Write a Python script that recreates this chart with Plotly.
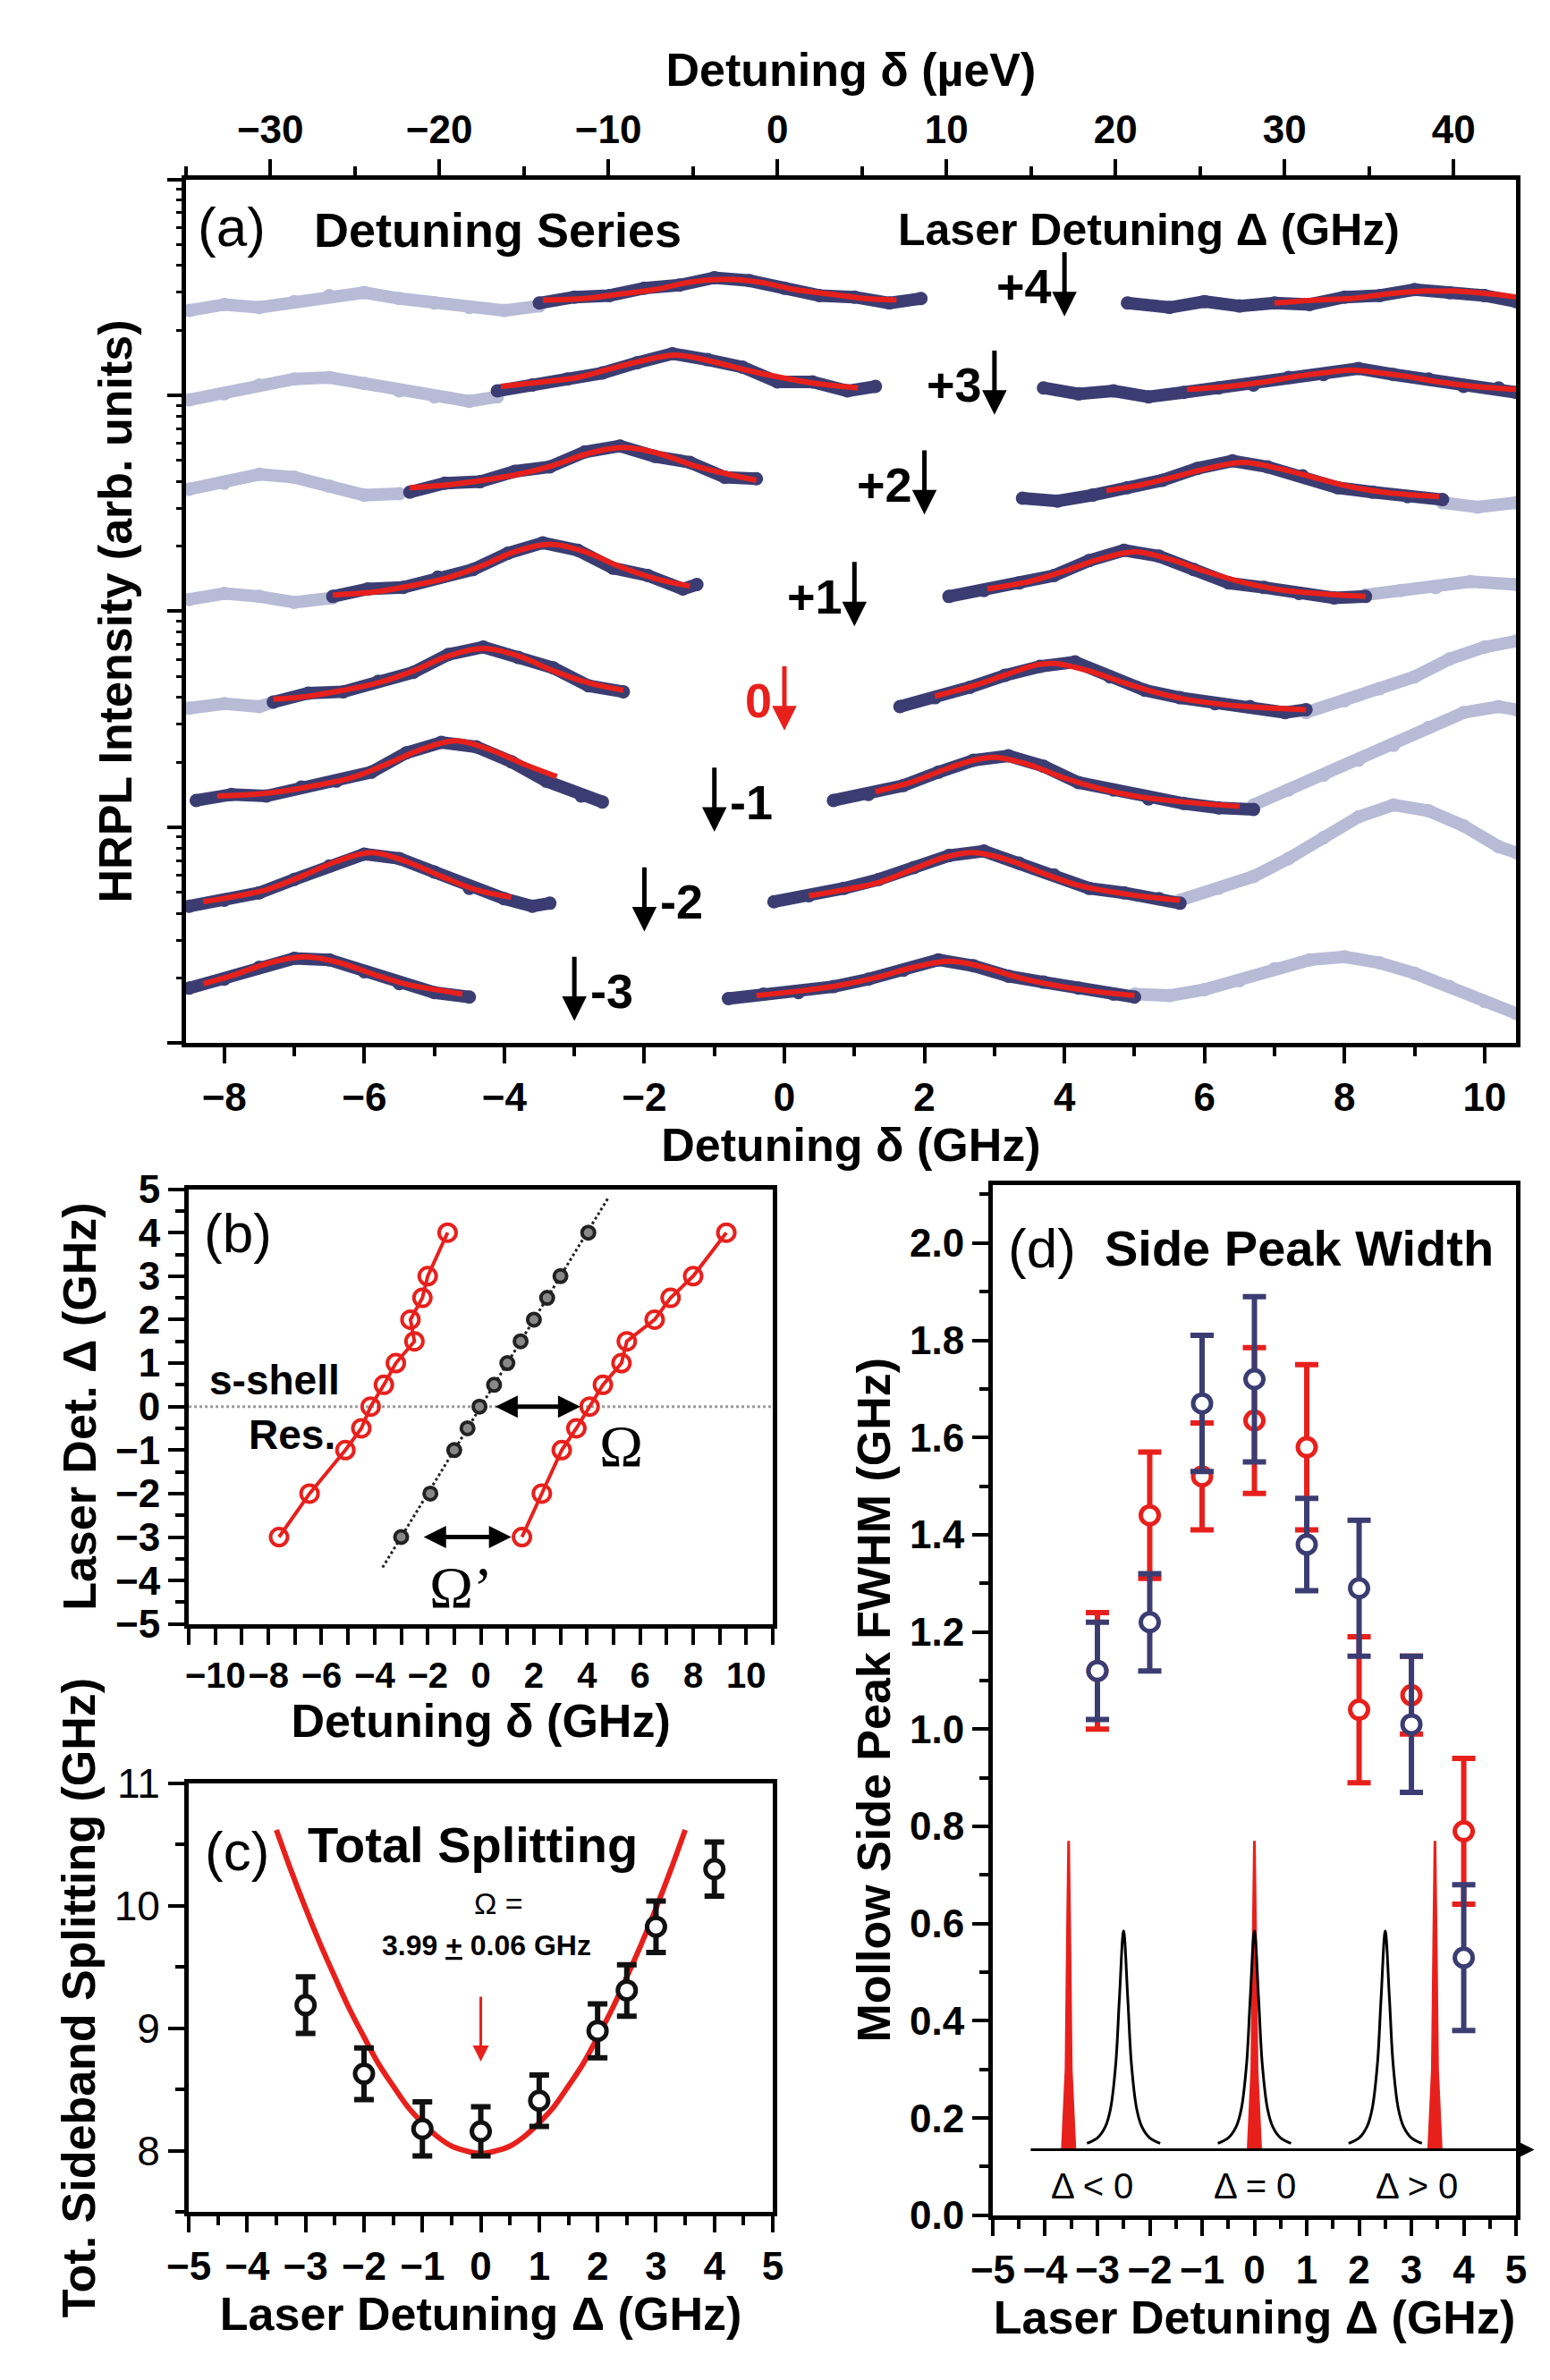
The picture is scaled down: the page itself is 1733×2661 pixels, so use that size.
import plotly.graph_objects as go

# ---------------- Panel (a) data (v = height above panel bottom, arb.) ----------------
row_labels = ["+4", "+3", "+2", "+1", "0", "-1", "-2", "-3"]
arrow_x = [4, 3, 2, 1, 0, -1, -2, -3]
arrow_tip = [488, 422, 355, 280, 210, 142, 75, 15]

lightL_x = [[-8.5,-8.0,-7.5,-7.0,-6.5,-6.0,-5.5,-5.0,-4.5,-4.0,-3.5],
            [-8.5,-8.0,-7.5,-7.0,-6.5,-6.0,-5.5,-5.0,-4.5,-4.1],
            [-8.5,-8.0,-7.5,-7.0,-6.5,-6.0,-5.5],
            [-8.5,-8.0,-7.5,-7.0,-6.45],
            [-8.5,-8.0,-7.5,-7.3], [], [], []]
lightL_v = [[492,496,494,498,502,504,500,497,494,492,495],
            [432,436,442,446,447,443,438,434,431,434],
            [372,376,382,380,374,368,369],
            [298,302,300,296,299],
            [225,228,226,229], [], [], []]
darkL_x = [[-3.5,-3.0,-2.5,-2.0,-1.5,-1.0,-0.5,0,0.5,1.0,1.5,1.95],
           [-4.1,-3.6,-3.1,-2.6,-2.1,-1.6,-1.1,-0.6,-0.1,0.4,0.9,1.3],
           [-5.35,-4.85,-4.35,-3.85,-3.35,-2.85,-2.35,-1.85,-1.35,-0.85,-0.4],
           [-6.45,-5.95,-5.45,-4.95,-4.45,-3.95,-3.45,-2.95,-2.45,-1.95,-1.45,-1.25],
           [-7.3,-6.8,-6.3,-5.8,-5.3,-4.8,-4.3,-3.8,-3.3,-2.8,-2.3],
           [-8.4,-7.9,-7.4,-6.9,-6.4,-5.9,-5.4,-4.9,-4.4,-3.9,-3.4,-2.9,-2.6],
           [-8.5,-8.0,-7.5,-7.0,-6.5,-6.0,-5.5,-5.0,-4.5,-4.0,-3.6,-3.35],
           [-8.5,-8.0,-7.5,-7.0,-6.5,-6.0,-5.5,-5.0,-4.5]]
darkL_v = [[497,501,502,507,509,514,512,507,502,501,497,500],
           [438,442,446,450,457,463,459,454,444,444,438,441],
           [370,376,377,384,387,397,401,394,390,380,379],
           [300,305,306,313,318,329,336,331,319,314,305,308],
           [229,235,236,243,249,261,266,259,252,240,236],
           [163,167,166,172,176,182,195,202,199,189,176,166,162],
           [92,96,101,110,119,127,124,115,104,97,92,94],
           [37,43,51,57,56,48,40,34,31]]
fitL_x = [[-3.45,-2.85,-2.35,-1.85,-1.35,-0.85,-0.35,0.15,0.65,1.15,1.6],
          [-4.05,-3.45,-2.95,-2.55,-2.05,-1.55,-1.05,-0.55,-0.05,0.45,1.05],
          [-5.35,-4.8,-4.3,-3.8,-3.3,-2.8,-2.3,-1.8,-1.3,-0.8,-0.4],
          [-6.45,-5.85,-5.35,-4.85,-4.35,-3.85,-3.35,-2.85,-2.35,-1.85,-1.35],
          [-7.3,-6.8,-6.3,-5.8,-5.3,-4.8,-4.3,-3.8,-3.3,-2.8,-2.3],
          [-8.1,-7.6,-7.2,-6.7,-6.2,-5.7,-5.2,-4.7,-4.2,-3.7,-3.25],
          [-8.3,-7.8,-7.4,-6.9,-6.4,-5.9,-5.4,-4.9,-4.4,-3.9],
          [-8.3,-7.85,-7.35,-6.85,-6.35,-5.85,-5.35,-4.85,-4.6]]
fitL_v = [[499,500,503,506,511,513,511,506,503,500,499],
          [441,444,447,452,458,462,458,452,447,443,440],
          [373,375,378,382,388,396,400,396,388,382,378],
          [301,303,307,312,320,330,335,330,320,312,307],
          [231,233,237,242,250,260,265,260,250,242,237],
          [166,167,169,173,178,187,197,203,197,187,179],
          [95,99,103,112,122,128,122,112,103,98],
          [40,46,54,58,54,46,39,35,33]]
darkR_x = [[4.9,5.5,6.0,6.5,7.0,7.5,8.0,8.5,9.0,9.5,10.0,10.45],
           [3.7,4.2,4.7,5.2,5.7,6.2,6.7,7.2,7.7,8.2,8.7,9.2,9.7,10.2,10.45],
           [3.4,3.9,4.4,4.9,5.4,5.9,6.4,6.9,7.4,7.9,8.4,8.9,9.4],
           [2.35,2.85,3.35,3.85,4.35,4.85,5.35,5.85,6.35,6.85,7.35,7.85,8.3],
           [1.65,2.15,2.65,3.15,3.65,4.15,4.65,5.15,5.65,6.15,6.65,7.15,7.45],
           [0.7,1.2,1.7,2.2,2.7,3.2,3.7,4.2,4.7,5.2,5.7,6.2,6.7],
           [-0.15,0.35,0.85,1.35,1.85,2.35,2.85,3.35,3.85,4.35,4.85,5.35,5.65],
           [-0.8,-0.3,0.2,0.7,1.2,1.7,2.2,2.7,3.2,3.7,4.2,4.7,5.0]]
darkR_v = [[497,494,498,495,497,496,501,502,506,504,502,498],
           [440,436,438,434,437,440,442,447,449,453,449,446,441,440,437],
           [366,364,368,373,378,386,391,387,381,373,370,367,365],
           [300,304,309,314,324,331,327,318,309,306,302,299,300],
           [226,232,239,247,253,256,246,237,232,228,226,222,224],
           [163,167,173,182,190,193,186,175,170,164,161,158,157],
           [95,99,104,110,118,126,129,121,113,104,101,97,94],
           [30,33,34,38,43,49,56,52,45,41,37,33,31]]
fitR_x = [[7.0,7.6,8.1,8.6,9.1,9.35,9.6,10.1,10.45],
          [5.75,6.35,6.85,7.35,7.85,8.1,8.35,8.85,9.35,9.85,10.45],
          [4.6,5.1,5.55,6.05,6.55,7.05,7.55,8.05,8.55,9.0,9.35],
          [2.9,3.5,4.0,4.5,5.0,5.5,6.0,6.5,7.0,7.6,8.3],
          [2.15,2.7,3.2,3.6,3.85,4.35,4.85,5.35,5.85,6.6,7.45],
          [1.3,1.8,2.3,2.7,3.0,3.5,4.0,4.5,5.0,5.7,6.5],
          [0.35,0.85,1.35,1.85,2.3,2.7,3.2,3.7,4.2,4.9,5.65],
          [-0.4,0.2,0.8,1.3,1.85,2.35,2.85,3.35,3.85,4.4,5.0]]
fitR_v = [[497,499,500,503,505,505,505,503,501],
          [439,441,444,448,451,452,451,448,444,441,439],
          [371,375,380,386,390,386,380,374,370,368,367],
          [305,310,317,325,330,325,317,310,305,302,300],
          [233,240,248,254,255,250,242,235,230,226,224],
          [169,175,184,190,192,187,178,171,166,162,159],
          [99,103,108,117,125,128,123,114,106,100,96],
          [32,35,39,44,51,55,51,44,39,35,32]]
lightR_x = [[], [],
            [9.4,9.9,10.45],
            [8.3,8.8,9.3,9.8,10.45],
            [7.45,8.0,8.5,9.0,9.5,10.0,10.45],
            [6.7,7.2,7.7,8.2,8.7,9.2,9.7,10.2,10.45],
            [5.65,6.2,6.7,7.2,7.7,8.2,8.7,9.2,9.7,10.2,10.45],
            [5.0,5.5,6.0,6.5,7.0,7.5,8.0,8.5,9.0,9.5,10.0,10.45]]
lightR_v = [[], [],
            [363,360,363],
            [301,304,306,310,308],
            [222,230,238,246,258,266,270],
            [160,170,180,190,200,212,222,226,224],
            [96,104,112,124,138,152,160,156,146,132,128],
            [33,32,36,42,50,56,58,54,47,38,28,20]]

# ---------------- Panel (b) data ----------------
b_Delta = [-3, -2, -1, -0.5, 0, 0.5, 1, 1.5, 2, 2.5, 3, 4]
b_left = [-7.6, -6.45, -5.1, -4.5, -4.15, -3.65, -3.2, -2.5, -2.65, -2.2, -2.0, -1.25]
b_center = [-3.0, -1.9, -1.0, -0.5, -0.05, 0.5, 1.0, 1.5, 2.0, 2.5, 3.0, 4.05]
b_right = [1.55, 2.3, 3.05, 3.6, 4.1, 4.6, 5.3, 5.5, 6.55, 7.15, 8.0, 9.25]
b_dotted = [-3.7, 4.8]

# ---------------- Panel (c) data ----------------
c_Delta = [-3, -2, -1, 0, 1, 2, 2.5, 3, 4]
c_split = [9.19, 8.63, 8.18, 8.16, 8.41, 8.98, 9.31, 9.83, 10.30]
c_err = [0.23, 0.21, 0.22, 0.20, 0.21, 0.22, 0.21, 0.21, 0.22]
c_fit_x = [-3.5,-3.25,-3.0,-2.75,-2.5,-2.25,-2.0,-1.75,-1.5,-1.25,-1.0,-0.75,-0.5,-0.25,0,
           0.25,0.5,0.75,1.0,1.25,1.5,1.75,2.0,2.25,2.5,2.75,3.0,3.25,3.5]
c_fit_y = [10.62,10.29,9.98,9.69,9.42,9.16,8.93,8.71,8.53,8.36,8.23,8.12,8.04,8.0,7.98,
           8.0,8.04,8.12,8.23,8.36,8.53,8.71,8.93,9.16,9.42,9.69,9.98,10.29,10.62]

# ---------------- Panel (d) data ----------------
d_Delta = [-3, -2, -1, 0, 1, 2, 3, 4]
d_blue = [1.12, 1.22, 1.67, 1.72, 1.38, 1.29, 1.01, 0.53]
d_blue_err = [0.10, 0.10, 0.14, 0.17, 0.095, 0.14, 0.14, 0.15]
d_red = [1.12, 1.44, 1.52, 1.635, 1.58, 1.04, 1.07, 0.79]
d_red_err = [0.12, 0.13, 0.11, 0.15, 0.17, 0.15, 0.08, 0.15]
inset_black_centers = [-2.5, 0, 2.5]
inset_black_dx = [-0.7,-0.5,-0.35,-0.25,-0.15,-0.08,0,0.08,0.15,0.25,0.35,0.5,0.7]
inset_black_h = [0.148,0.159,0.182,0.219,0.311,0.446,0.585,0.446,0.311,0.219,0.182,0.159,0.148]
inset_red_centers = [-3.55, 0, 3.45]
inset_red_dx = [-0.12,-0.05,-0.02,0,0.02,0.05,0.12]
inset_red_h = [0.135,0.3,0.6,0.77,0.6,0.3,0.135]
inset_base = 0.135

DARK = "#3b3d72"
LIGHT = "#b8bbd6"
RED = "#e8201c"
FONT = "Liberation Sans"

fig = go.Figure()

# panel (a)
for i in range(len(row_labels)):
    for xs, vs, col in [(lightL_x[i], lightL_v[i], LIGHT), (lightR_x[i], lightR_v[i], LIGHT),
                        (darkL_x[i], darkL_v[i], DARK), (darkR_x[i], darkR_v[i], DARK)]:
        if xs:
            fig.add_trace(go.Scatter(x=xs, y=vs, mode="lines+markers", line=dict(color=col, width=14),
                                     marker=dict(color=col, size=15), xaxis="x", yaxis="y"))
    for xs, vs in [(fitL_x[i], fitL_v[i]), (fitR_x[i], fitR_v[i])]:
        fig.add_trace(go.Scatter(x=xs, y=vs, mode="lines", line=dict(color=RED, width=6, shape="spline"),
                                 xaxis="x", yaxis="y"))
fig.add_trace(go.Scatter(x=[0], y=[0], mode="markers", marker=dict(opacity=0), xaxis="x2", yaxis="y"))
fig.add_trace(go.Scatter(x=[0], y=[10], mode="markers", marker=dict(opacity=0), xaxis="x", yaxis="y2"))
fig.add_trace(go.Scatter(x=[0], y=[10], mode="markers", marker=dict(opacity=0), xaxis="x", yaxis="y3"))

# panel (b)
fig.add_trace(go.Scatter(x=b_dotted, y=b_dotted, mode="lines", line=dict(color="#222", width=3, dash="dot"),
                         xaxis="x3", yaxis="y4"))
fig.add_trace(go.Scatter(x=[-11, 11], y=[0, 0], mode="lines", line=dict(color="#999", width=3, dash="dot"),
                         xaxis="x3", yaxis="y4"))
fig.add_trace(go.Scatter(x=b_center, y=b_Delta, mode="markers",
                         marker=dict(symbol="circle", size=14, color="#888", line=dict(color="#222", width=4)),
                         xaxis="x3", yaxis="y4"))
for xs in [b_left, b_right]:
    fig.add_trace(go.Scatter(x=xs, y=b_Delta, mode="lines+markers", line=dict(color=RED, width=4),
                             marker=dict(symbol="circle-open", size=19, color=RED, line=dict(width=4)),
                             xaxis="x3", yaxis="y4"))

# panel (c)
fig.add_trace(go.Scatter(x=c_fit_x, y=c_fit_y, mode="lines", line=dict(color=RED, width=6, shape="spline"),
                         xaxis="x4", yaxis="y5"))
fig.add_trace(go.Scatter(x=c_Delta, y=c_split, mode="markers",
                         error_y=dict(type="data", array=c_err, color="#111", thickness=6, width=11),
                         marker=dict(symbol="circle", size=20, color="white", line=dict(color="#111", width=5)),
                         xaxis="x4", yaxis="y5"))

# panel (d)
for c in inset_red_centers:
    fig.add_trace(go.Scatter(x=[c + d for d in inset_red_dx], y=inset_red_h, mode="lines", fill="toself",
                             fillcolor=RED, line=dict(color=RED, width=3), xaxis="x5", yaxis="y6"))
for c in inset_black_centers:
    fig.add_trace(go.Scatter(x=[c + d for d in inset_black_dx], y=inset_black_h, mode="lines",
                             line=dict(color="black", width=3, shape="spline"), xaxis="x5", yaxis="y6"))
fig.add_trace(go.Scatter(x=d_Delta, y=d_red, mode="markers",
                         error_y=dict(type="data", array=d_red_err, color=RED, thickness=6, width=13),
                         marker=dict(symbol="circle", size=20, color="white", line=dict(color=RED, width=5)),
                         xaxis="x5", yaxis="y6"))
fig.add_trace(go.Scatter(x=d_Delta, y=d_blue, mode="markers",
                         error_y=dict(type="data", array=d_blue_err, color=DARK, thickness=6, width=13),
                         marker=dict(symbol="circle", size=20, color="white", line=dict(color=DARK, width=5)),
                         xaxis="x5", yaxis="y6"))

tf = dict(family=FONT, size=44, color="black", weight="bold")
ttl = dict(family=FONT, size=52, color="black")
common = dict(showline=True, linewidth=5, linecolor="black", ticks="outside", tickwidth=4, ticklen=18,
              tickcolor="black", showgrid=False, zeroline=False, tickfont=tf, tickangle=0)

def minor(d, ln=10):
    return dict(dtick=d, ticks="outside", ticklen=ln, tickwidth=4, tickcolor="black", showgrid=False)

dA = [0.103, 0.980]; yA = [0.5663, 0.9362]
dB = [0.105, 0.490]; yB = [0.3176, 0.5038]
dC = [0.105, 0.490]; yC = [0.0657, 0.2494]
dD = [0.635, 0.980]; yD = [0.0644, 0.5057]

fig.update_layout(
    width=1733, height=2661, paper_bgcolor="white", plot_bgcolor="white", showlegend=False,
    font=dict(family=FONT, color="black"),
    margin=dict(l=0, r=0, t=0, b=0),
    xaxis=dict(common, domain=dA, anchor="y", range=[-8.55, 10.45], dtick=2, mirror=True,
               minor=minor(1), title=dict(text="<b>Detuning δ (GHz)</b>", font=ttl, standoff=8)),
    xaxis2=dict(common, overlaying="x", side="top", anchor="y", range=[-35.0, 43.7], dtick=10, minor=minor(5),
                title=dict(text="<b>Detuning δ (µeV)</b>", font=ttl, standoff=8)),
    yaxis=dict(common, domain=yA, anchor="x", range=[0, 580], mirror=True, ticks="", showticklabels=False,
               title=dict(text="<b>HRPL Intensity (arb. units)</b>", font=ttl, standoff=40)),
    yaxis2=dict(overlaying="y", anchor="x", type="log", range=[0, 4], showline=False, showgrid=False,
                showticklabels=False, ticks="outside", ticklen=10, tickwidth=3, tickcolor="black",
                tickvals=[m * 10 ** k for k in range(4) for m in range(2, 10)]),
    yaxis3=dict(overlaying="y", anchor="x", type="log", range=[0, 4], showline=False, showgrid=False,
                showticklabels=False, ticks="outside", ticklen=20, tickwidth=4, tickcolor="black",
                tickvals=[10 ** k for k in range(5)]),
    xaxis3=dict(common, domain=dB, anchor="y4", range=[-11, 11], mirror=True, tickvals=list(range(-10, 11, 2)),
                tickfont=dict(tf, size=40),
                minor=dict(minor(1), ticklen=18), title=dict(text="<b>Detuning δ (GHz)</b>", font=ttl, standoff=6)),
    yaxis4=dict(common, domain=yB, anchor="x3", range=[-5, 5], mirror=True, dtick=1, minor=minor(0.5),
                title=dict(text="<b>Laser Det. Δ (GHz)</b>", font=ttl, standoff=6)),
    xaxis4=dict(common, domain=dC, anchor="y5", range=[-5, 5], mirror=True, dtick=1, minor=minor(0.5),
                title=dict(text="<b>Laser Detuning Δ (GHz)</b>", font=ttl, standoff=6)),
    yaxis5=dict(common, domain=yC, anchor="x4", range=[7.5, 11], mirror=True, dtick=1, minor=minor(0.5),
                tickfont=dict(family=FONT, size=46, color="black"),
                title=dict(text="<b>Tot. Sideband Splitting (GHz)</b>", font=ttl, standoff=6)),
    xaxis5=dict(common, domain=dD, anchor="y6", range=[-5, 5], mirror=True, dtick=1, minor=minor(0.5),
                title=dict(text="<b>Laser Detuning Δ (GHz)</b>", font=ttl, standoff=6)),
    yaxis6=dict(common, domain=yD, anchor="x5", range=[0, 2.12], mirror=True, dtick=0.2, tickformat=".1f",
                minor=minor(0.1), title=dict(text="<b>Mollow Side Peak FWHM (GHz)</b>", font=ttl, standoff=6)),
)

ann = []
def txt(x, y, t, xr, yr, size=40, color="black", xanchor="left", bold=True):
    ann.append(dict(x=x, y=y, xref=xr, yref=yr, text=(f"<b>{t}</b>" if bold else t), showarrow=False,
                    xanchor=xanchor, font=dict(family=FONT, size=size, color=color)))

ann.append(dict(x=-8.4, y=548, xref="x", yref="y", text="(a)", showarrow=False, xanchor="left",
                font=dict(family=FONT, size=62, color="black")))
txt(-6.75, 546, "Detuning Series", "x", "y", 54)
txt(1.6, 546, "Laser Detuning Δ (GHz)", "x", "y", 50)
for lab, ax_, tip in zip(row_labels, arrow_x, arrow_tip):
    col = RED if lab == "0" else "black"
    ann.append(dict(x=ax_, y=tip, ax=ax_, ay=tip + 44, xref="x", yref="y", axref="x", ayref="y",
                    showarrow=True, arrowhead=2, arrowsize=1.1, arrowwidth=5, arrowcolor=col, text=""))
    if ax_ >= 0:
        txt(ax_ - 0.15, tip + 20, lab, "x", "y", 54, col, "right")
    else:
        txt(ax_ + 0.2, tip + 20, lab, "x", "y", 54, col, "left")

ann.append(dict(x=-10.5, y=4.0, xref="x3", yref="y4", text="(b)", showarrow=False, xanchor="left",
                font=dict(family=FONT, size=62, color="black")))
txt(-10.3, 0.6, "s-shell", "x3", "y4", 46)
txt(-8.8, -0.65, "Res.", "x3", "y4", 46)
for (x0, x1, yy) in [(0.5, 3.75, 0), (-2.2, 1.15, -3)]:
    ann.append(dict(x=x1, y=yy, ax=x0, ay=yy, xref="x3", yref="y4", axref="x3", ayref="y4", showarrow=True,
                    arrowhead=2, arrowside="end+start", arrowsize=1.0, arrowwidth=5, arrowcolor="black", text=""))
ann.append(dict(x=5.3, y=-0.9, xref="x3", yref="y4", text="Ω", showarrow=False,
                font=dict(family="Liberation Serif", size=66, color="black")))
ann.append(dict(x=-0.75, y=-4.15, xref="x3", yref="y4", text="Ω’", showarrow=False,
                font=dict(family="Liberation Serif", size=66, color="black")))

ann.append(dict(x=-4.75, y=10.45, xref="x4", yref="y5", text="(c)", showarrow=False, xanchor="left",
                font=dict(family=FONT, size=62, color="black")))
txt(-3.0, 10.5, "Total Splitting", "x4", "y5", 56)
txt(-0.15, 10.02, "Ω =", "x4", "y5", 34, bold=False)
txt(0.1, 9.68, "3.99 <u>+</u> 0.06 GHz", "x4", "y5", 32, xanchor="center")
ann.append(dict(x=0, y=8.73, ax=0, ay=9.27, xref="x4", yref="y5", axref="x4", ayref="y5", showarrow=True,
                arrowhead=2, arrowsize=1.2, arrowwidth=3, arrowcolor=RED, text=""))

ann.append(dict(x=-4.75, y=1.99, xref="x5", yref="y6", text="(d)", showarrow=False, xanchor="left",
                font=dict(family=FONT, size=62, color="black")))
txt(-2.9, 1.99, "Side Peak Width", "x5", "y6", 56)
ann.append(dict(x=5.35, y=inset_base, ax=-4.3, ay=inset_base, xref="x5", yref="y6", axref="x5", ayref="y6",
                showarrow=True, arrowhead=2, arrowsize=1.2, arrowwidth=3, arrowcolor="black", text=""))
for xx, t in [(-3.1, "Δ < 0"), (0.0, "Δ = 0"), (3.1, "Δ > 0")]:
    txt(xx, 0.06, t, "x5", "y6", 40, xanchor="center", bold=False)

fig.update_layout(annotations=ann)
fig.write_html("out.html")
